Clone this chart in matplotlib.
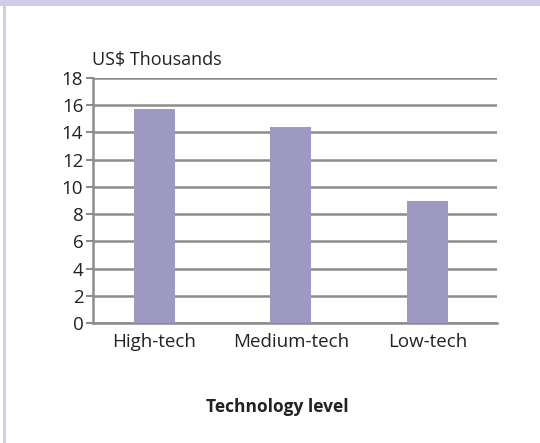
import matplotlib
matplotlib.use("Agg")
import matplotlib.pyplot as plt
from matplotlib.patches import Rectangle

categories = ["High-tech", "Medium-tech", "Low-tech"]
values = [15.7, 14.4, 9.0]
yticks = [0, 2, 4, 6, 8, 10, 12, 14, 16, 18]

W, H = 540, 443
fig = plt.figure(figsize=(W / 100, H / 100), dpi=100)
fig.patch.set_facecolor("white")

# frame strips (lavender)
lav = "#d0cee6"
fig.patches.append(Rectangle((0, 1 - 6 / H), 1, 6 / H, transform=fig.transFigure,
                             facecolor=lav, edgecolor="none", zorder=0))
fig.patches.append(Rectangle((3 / W, 0), 3 / W, 1, transform=fig.transFigure,
                             facecolor=lav, edgecolor="none", zorder=0))

left, right = 93, 497
top, bottom = 78, 323
ax = fig.add_axes([left / W, 1 - bottom / H, (right - left) / W, (bottom - top) / H])
ax.set_facecolor("none")

font = "Open Sans"
grid_c = "#8c8c8c"
bar_c = "#9e99c2"

x = list(range(len(categories)))
ax.bar(x, values, width=0.30, color=bar_c, zorder=3)
ax.set_xlim(-0.45, 2.51)
ax.set_ylim(0, 18)
ax.set_yticks(yticks)
ax.set_yticklabels([str(t) for t in yticks], fontsize=13.5, family=font, color="#222222")
ax.set_xticks(x)
ax.set_xticklabels(categories, fontsize=13.5, family=font, color="#222222")
ax.tick_params(axis="x", length=0, pad=7)
ax.tick_params(axis="y", length=5, width=1.5, color=grid_c, pad=2)
ax.yaxis.grid(True, color=grid_c, linewidth=1.8, zorder=1)
ax.set_axisbelow(True)
for s in ["top", "right"]:
    ax.spines[s].set_visible(False)
for s in ["left", "bottom"]:
    ax.spines[s].set_color(grid_c)
    ax.spines[s].set_linewidth(1.8)

fig.text(92 / W, 1 - 60 / H, "US$ Thousands", fontsize=13, family=font,
         color="#222222", ha="left", va="center")
fig.text(277 / W, 1 - 407 / H, "Technology level", fontsize=12.5, family=font,
         fontweight="bold", color="#222222", ha="center", va="center")

fig.savefig("out.png", dpi=100, facecolor="white")
